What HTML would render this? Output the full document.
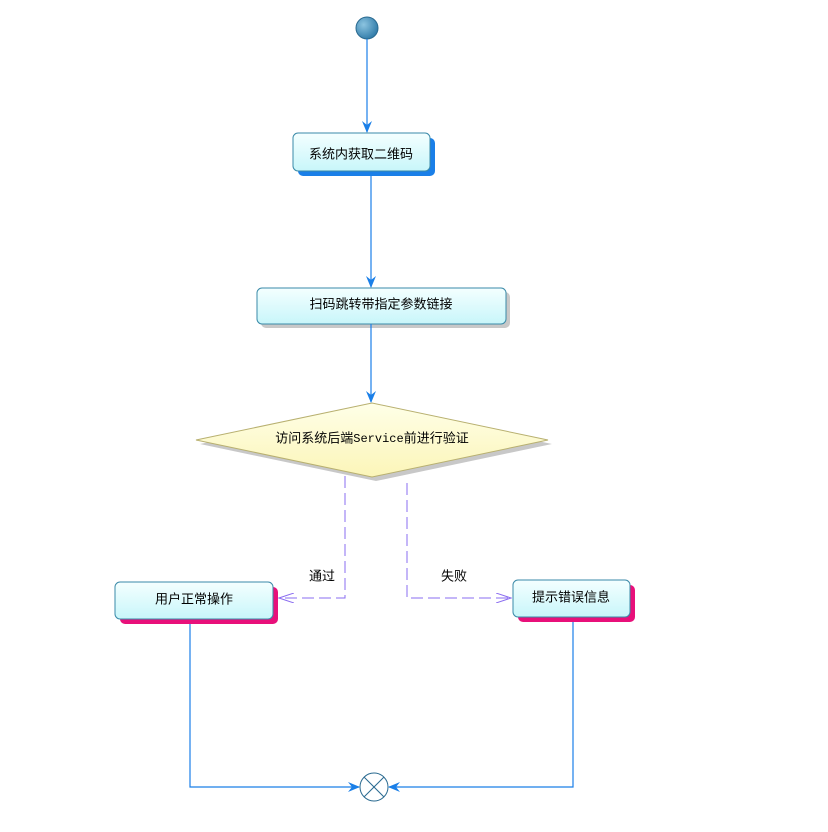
<!DOCTYPE html>
<html><head><meta charset="utf-8"><style>
body{margin:0;background:#fff}
text{font-family:"Liberation Sans","Noto Sans CJK SC",sans-serif;font-size:13px;fill:#000}
</style></head><body>
<svg width="828" height="827" viewBox="0 0 828 827" xmlns="http://www.w3.org/2000/svg">
<defs>
<linearGradient id="bx" x1="0" y1="0" x2="0" y2="1"><stop offset="0" stop-color="#f4ffff"/><stop offset="1" stop-color="#c8f6fa"/></linearGradient>
<linearGradient id="dm" x1="0" y1="0" x2="0" y2="1"><stop offset="0" stop-color="#ffffe8"/><stop offset="1" stop-color="#fbf5b8"/></linearGradient>
<radialGradient id="st" cx="0.35" cy="0.35" r="0.7"><stop offset="0" stop-color="#8cc4e0"/><stop offset="1" stop-color="#2f7aa8"/></radialGradient>
<marker id="ar" markerWidth="12" markerHeight="10" refX="11" refY="5" orient="auto" markerUnits="userSpaceOnUse"><path d="M0,0 L12,5 L0,10 L4,5 Z" fill="#1a7fe8"/></marker>
<marker id="oa" markerWidth="16" markerHeight="10" refX="15" refY="5" orient="auto" markerUnits="userSpaceOnUse"><path d="M0,0 L15,5 L0,10" fill="none" stroke="#8a6cf0"/></marker>
</defs>
<circle cx="367" cy="28" r="11" fill="url(#st)" stroke="#2a6a90"/>
<line x1="367" y1="39" x2="367" y2="132" stroke="#1a7fe8" stroke-width="1.2" marker-end="url(#ar)"/>
<rect x="298" y="138" width="137" height="38" rx="5" fill="#1a7fe8"/>
<rect x="293" y="133" width="137" height="38" rx="5" fill="url(#bx)" stroke="#3a8aa8"/>
<text x="361" y="155" text-anchor="middle" dominant-baseline="middle">系统内获取二维码</text>
<line x1="371" y1="176" x2="371" y2="287" stroke="#1a7fe8" stroke-width="1.2" marker-end="url(#ar)"/>
<rect x="261" y="292" width="249" height="36" rx="5" fill="#c8c8c8"/>
<rect x="257" y="288" width="249" height="36" rx="5" fill="url(#bx)" stroke="#3a8aa8"/>
<text x="381" y="305" text-anchor="middle" dominant-baseline="middle">扫码跳转带指定参数链接</text>
<line x1="371" y1="324" x2="371" y2="402" stroke="#1a7fe8" stroke-width="1.2" marker-end="url(#ar)"/>
<polygon points="376,407 552,444 376,481 200,444" fill="#c8c8c8"/>
<polygon points="372,403 548,440 372,477 196,440" fill="url(#dm)" stroke="#b8b070"/>
<text x="372" y="439" text-anchor="middle" dominant-baseline="middle" style="font-size:13px">访问系统后端<tspan style="font-family:'Liberation Mono',monospace;font-size:12px">Service</tspan>前进行验证</text>
<polyline points="345,476 345,598 279,598" fill="none" stroke="#8a6cf0" stroke-dasharray="12,5" marker-end="url(#oa)"/>
<polyline points="407,483 407,598 511,598" fill="none" stroke="#8a6cf0" stroke-dasharray="12,5" marker-end="url(#oa)"/>
<text x="322" y="577" text-anchor="middle" dominant-baseline="middle">通过</text>
<text x="454" y="577" text-anchor="middle" dominant-baseline="middle">失败</text>
<rect x="120" y="587" width="158" height="37" rx="5" fill="#e8107a"/>
<rect x="115" y="582" width="158" height="37" rx="5" fill="url(#bx)" stroke="#3a8aa8"/>
<text x="194" y="600" text-anchor="middle" dominant-baseline="middle">用户正常操作</text>
<rect x="518" y="585" width="117" height="37" rx="5" fill="#e8107a"/>
<rect x="513" y="580" width="117" height="37" rx="5" fill="url(#bx)" stroke="#3a8aa8"/>
<text x="571" y="598" text-anchor="middle" dominant-baseline="middle">提示错误信息</text>
<polyline points="190,624 190,787 359,787" fill="none" stroke="#1a7fe8" stroke-width="1.2" marker-end="url(#ar)"/>
<polyline points="573,622 573,787 389,787" fill="none" stroke="#1a7fe8" stroke-width="1.2" marker-end="url(#ar)"/>
<circle cx="374" cy="787" r="14" fill="#fff" stroke="#2a6a90"/>
<line x1="364" y1="777" x2="384" y2="797" stroke="#2a6a90"/>
<line x1="384" y1="777" x2="364" y2="797" stroke="#2a6a90"/>
</svg>
</body></html>
